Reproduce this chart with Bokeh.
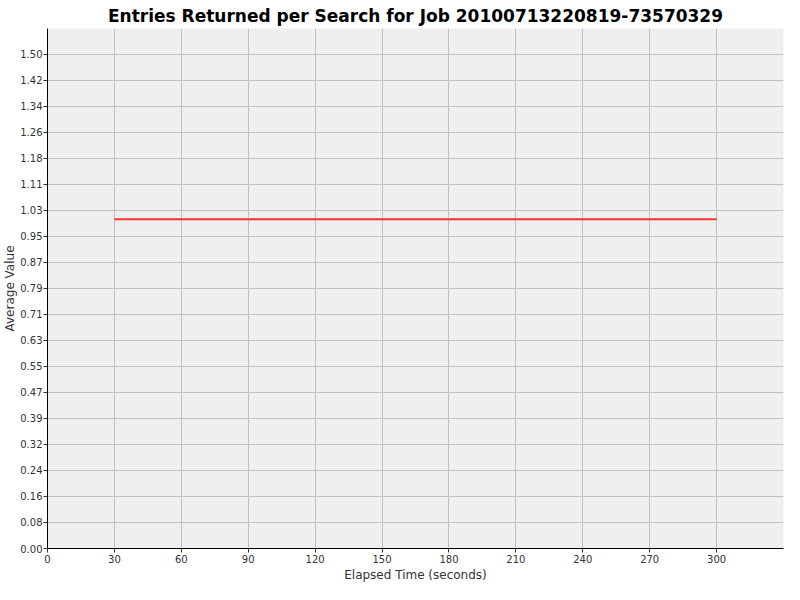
from bokeh.plotting import figure
from bokeh.models import FixedTicker, Range1d
from bokeh.embed import file_html
from bokeh.resources import INLINE

title_text = "Entries Returned per Search for Job 20100713220819-73570329"
x_label = "Elapsed Time (seconds)"
y_label = "Average Value"

elapsed = [30, 60, 90, 120, 150, 180, 210, 240, 270, 300]
avg_value = [1.0, 1.0, 1.0, 1.0, 1.0, 1.0, 1.0, 1.0, 1.0, 1.0]

x_ticks = [0, 30, 60, 90, 120, 150, 180, 210, 240, 270, 300]
y_tick_labels = ["0.00", "0.08", "0.16", "0.24", "0.32", "0.39", "0.47", "0.55",
                 "0.63", "0.71", "0.79", "0.87", "0.95", "1.03", "1.11", "1.18",
                 "1.26", "1.34", "1.42", "1.50"]
y_step = 1.5 / 19
y_ticks = [i * y_step for i in range(len(y_tick_labels))]

p = figure(width=784, height=584, output_backend="svg", toolbar_location=None,
           x_range=Range1d(0, 330), y_range=Range1d(0, 1.5789),
           min_border_left=40, min_border_right=1, min_border_top=28, min_border_bottom=30)

p.title.text = title_text
p.title.align = "center"
p.title.text_font = "DejaVu Sans"
p.title.text_font_style = "bold"
p.title.text_font_size = "17px"
p.title.text_color = "#000000"
p.title.standoff = 6

p.background_fill_color = "#efefef"
p.border_fill_color = "#ffffff"
p.outline_line_color = None

p.line(elapsed, avg_value, line_color="#ff3333", line_width=2)

for ax in (p.xaxis, p.yaxis):
    ax.axis_line_color = "#000000"
    ax.axis_line_width = 1
    ax.major_tick_out = 4
    ax.major_tick_in = 0
    ax.major_tick_line_color = "#333333"
    ax.minor_tick_line_color = None
    ax.major_label_text_font = "DejaVu Sans"
    ax.major_label_text_font_size = "10px"
    ax.major_label_text_color = "#333333"
    ax.major_label_standoff = 2
    ax.axis_label_text_font = "DejaVu Sans"
    ax.axis_label_text_font_size = "12px"
    ax.axis_label_text_font_style = "normal"
    ax.axis_label_text_color = "#333333"
    ax.axis_label_standoff = 2

p.xaxis.axis_label = x_label
p.yaxis.axis_label = y_label
p.yaxis.axis_label_standoff = 0
p.yaxis.major_label_standoff = 1
p.xaxis.ticker = FixedTicker(ticks=x_ticks)
p.yaxis.ticker = FixedTicker(ticks=y_ticks)
p.yaxis.major_label_overrides = {t: l for t, l in zip(y_ticks, y_tick_labels)}

p.xgrid.ticker = FixedTicker(ticks=x_ticks)
p.ygrid.ticker = FixedTicker(ticks=y_ticks)
p.xgrid.grid_line_color = "#c0c0c0"
p.ygrid.grid_line_color = "#c0c0c0"
p.xgrid.grid_line_width = 1
p.ygrid.grid_line_width = 1

open("out.html", "w").write(file_html(p, INLINE))
